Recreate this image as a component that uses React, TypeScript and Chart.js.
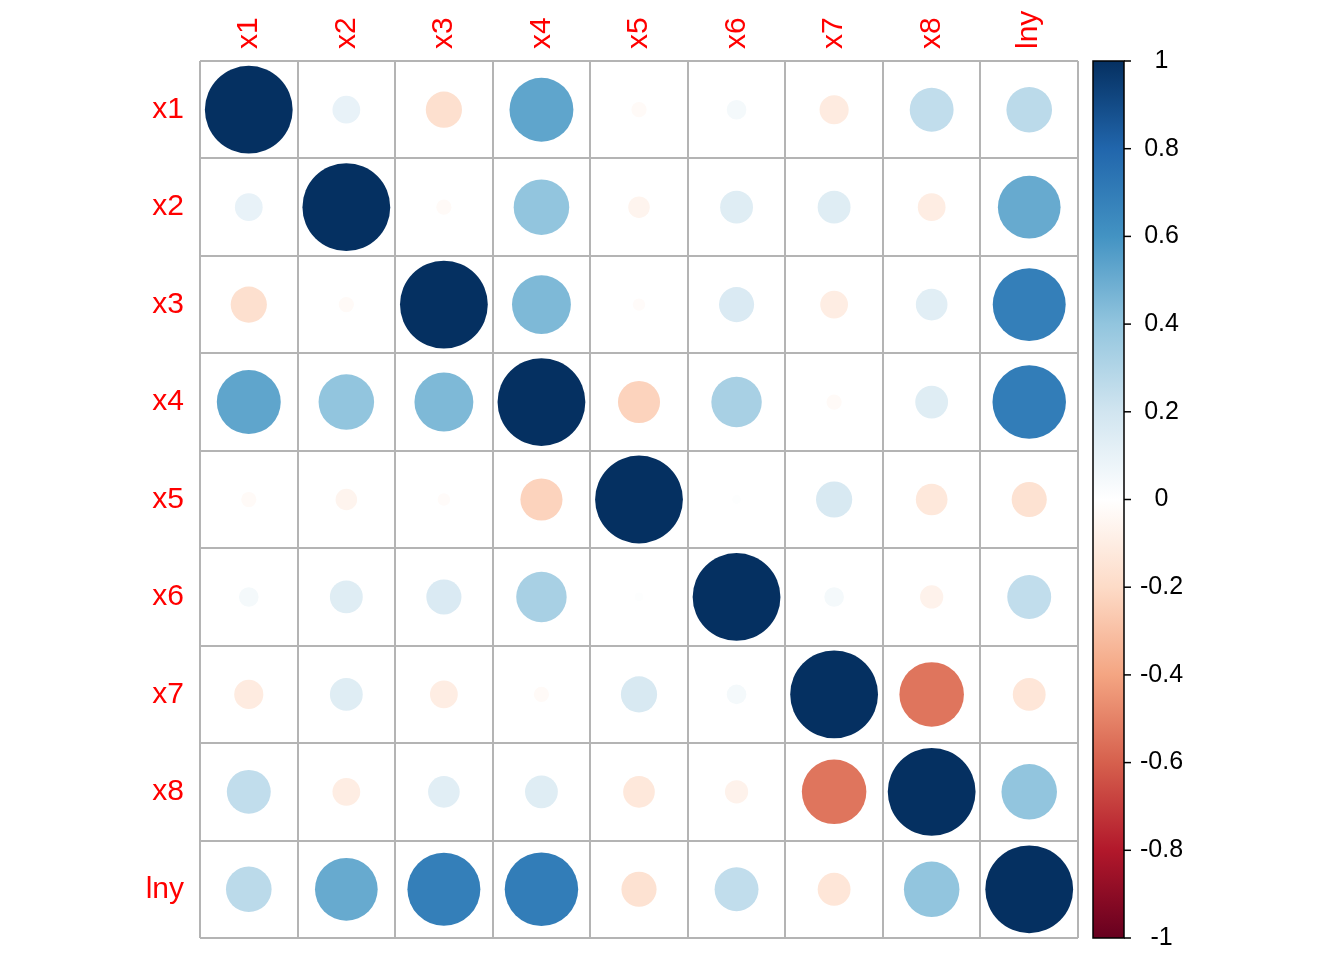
import React, { useEffect, useRef } from 'react';
import { Chart, registerables } from 'chart.js';

Chart.register(...registerables);

const VARS = ['x1', 'x2', 'x3', 'x4', 'x5', 'x6', 'x7', 'x8', 'lny'];

const ROW_X1 = [1, 0.10, -0.17, 0.53, -0.03, 0.05, -0.11, 0.25, 0.27];
const ROW_X2 = [0.10, 1, -0.03, 0.40, -0.06, 0.14, 0.14, -0.10, 0.51];
const ROW_X3 = [-0.17, -0.03, 1, 0.45, -0.02, 0.16, -0.10, 0.13, 0.69];
const ROW_X4 = [0.53, 0.40, 0.45, 1, -0.23, 0.33, -0.03, 0.14, 0.70];
const ROW_X5 = [-0.03, -0.06, -0.02, -0.23, 1, 0.01, 0.17, -0.13, -0.16];
const ROW_X6 = [0.05, 0.14, 0.16, 0.33, 0.01, 1, 0.05, -0.07, 0.25];
const ROW_X7 = [-0.11, 0.14, -0.10, -0.03, 0.17, 0.05, 1, -0.54, -0.14];
const ROW_X8 = [0.25, -0.10, 0.13, 0.14, -0.13, -0.07, -0.54, 1, 0.40];
const ROW_LNY = [0.27, 0.51, 0.69, 0.70, -0.16, 0.25, -0.14, 0.40, 1];

const CORR = [ROW_X1, ROW_X2, ROW_X3, ROW_X4, ROW_X5, ROW_X6, ROW_X7, ROW_X8, ROW_LNY];

const CB_TICKS = [-1, -0.8, -0.6, -0.4, -0.2, 0, 0.2, 0.4, 0.6, 0.8, 1];
const CB_LABELS = ['-1', '-0.8', '-0.6', '-0.4', '-0.2', '0', '0.2', '0.4', '0.6', '0.8', '1'];

const PALETTE = ['#67001F', '#B2182B', '#D6604D', '#F4A582', '#FDDBC7', '#FFFFFF', '#D1E5F0', '#92C5DE', '#4393C3', '#2166AC', '#053061'];

const FONT = '"Liberation Sans", Arial, Helvetica, sans-serif';
const GRID_COLOR = '#B4B4B4';

function hexToRgb(h: string): number[] {
  const n = parseInt(h.slice(1), 16);
  return [(n >> 16) & 255, (n >> 8) & 255, n & 255];
}

function colorFor(v: number): string {
  const t = ((v + 1) / 2) * (PALETTE.length - 1);
  const i = Math.max(0, Math.min(Math.floor(t), PALETTE.length - 2));
  const f = t - i;
  const a = hexToRgb(PALETTE[i]);
  const b = hexToRgb(PALETTE[i + 1]);
  const c = a.map((x, k) => Math.round(x + (b[k] - x) * f));
  return `rgb(${c[0]},${c[1]},${c[2]})`;
}

const colorbarPlugin = {
  id: 'colorbar',
  afterDraw(chart: any) {
    const s = chart.scales.cb;
    if (!s) return;
    const ctx = chart.ctx;
    const x0 = s.left + 15;
    const x1 = s.left + 46;
    const top = s.getPixelForValue(1);
    const bot = s.getPixelForValue(-1);
    const g = ctx.createLinearGradient(0, bot, 0, top);
    PALETTE.forEach((c, i) => g.addColorStop(i / (PALETTE.length - 1), c));
    ctx.save();
    ctx.fillStyle = g;
    ctx.fillRect(x0, top, x1 - x0, bot - top);
    ctx.strokeStyle = '#000';
    ctx.lineWidth = 1.5;
    ctx.strokeRect(x0, top, x1 - x0, bot - top);
    CB_TICKS.forEach((v) => {
      const y = s.getPixelForValue(v);
      ctx.beginPath();
      ctx.moveTo(x1, y);
      ctx.lineTo(x1 + 7, y);
      ctx.stroke();
    });
    ctx.restore();
  },
};

export default function App() {
  const ref = useRef<HTMLCanvasElement | null>(null);

  useEffect(() => {
    document.body.style.margin = '0';
    const canvas = ref.current;
    if (!canvas) return;

    const points: any[] = [];
    CORR.forEach((row, r) => {
      row.forEach((v, c) => {
        points.push({ x: VARS[c], y: VARS[r], v });
      });
    });

    const chart = new Chart(canvas, {
      type: 'scatter',
      data: {
        datasets: [
          {
            data: points,
            pointStyle: 'circle',
            pointRadius: (ctx: any) => {
              const sx = ctx.chart.scales.x;
              const cell = Math.abs(sx.getPixelForValue(1) - sx.getPixelForValue(0));
              const v = ctx.raw ? ctx.raw.v : 0;
              return 0.45 * cell * Math.sqrt(Math.abs(v));
            },
            pointBackgroundColor: (ctx: any) => colorFor(ctx.raw ? ctx.raw.v : 0),
            pointBorderColor: (ctx: any) => colorFor(ctx.raw ? ctx.raw.v : 0),
            pointBorderWidth: 0,
            pointHoverRadius: 0,
          } as any,
        ],
      },
      options: {
        responsive: false,
        animation: false,
        devicePixelRatio: 1,
        events: [],
        layout: { padding: { left: 0, top: 0, right: 0, bottom: 22 } },
        plugins: {
          legend: { display: false },
          tooltip: { enabled: false },
          title: { display: false },
        },
        scales: {
          x: {
            type: 'category',
            labels: VARS,
            position: 'top',
            offset: true,
            grid: { offset: true, color: GRID_COLOR, lineWidth: 2, drawTicks: false },
            border: { display: false },
            ticks: {
              color: '#FF0000',
              font: { size: 30, family: FONT },
              minRotation: 90,
              maxRotation: 90,
              padding: 12,
              labelOffset: 36,
              autoSkip: false,
            },
            afterFit: (s: any) => {
              s.height = 61;
              s.paddingLeft = 0;
              s.paddingRight = 0;
            },
          },
          y: {
            type: 'category',
            labels: VARS,
            position: 'left',
            offset: true,
            grid: { offset: true, color: GRID_COLOR, lineWidth: 2, drawTicks: false },
            border: { display: false },
            ticks: {
              color: '#FF0000',
              font: { size: 30, family: FONT },
              padding: 16,
              autoSkip: false,
            },
            afterFit: (s: any) => {
              s.width = 200;
              s.paddingTop = 0;
              s.paddingBottom = 0;
            },
          },
          cb: {
            type: 'linear',
            axis: 'y',
            position: 'right',
            min: -1,
            max: 1,
            grid: { display: false, drawTicks: true, tickLength: 57 },
            border: { display: false },
            afterBuildTicks: (s: any) => {
              s.ticks = CB_TICKS.map((v) => ({ value: v }));
            },
            ticks: {
              callback: (_v: any, i: number) => CB_LABELS[i],
              color: '#000',
              font: { size: 25, family: FONT },
              crossAlign: 'center',
              padding: 5,
              autoSkip: false,
            },
            afterFit: (s: any) => {
              s.width = 266;
              s.paddingTop = 0;
              s.paddingBottom = 0;
            },
          },
        } as any,
      },
      plugins: [colorbarPlugin],
    });

    return () => {
      chart.destroy();
    };
  }, []);

  return (
    <div style={{ width: 1344, height: 960 }}>
      <canvas ref={ref} width={1344} height={960} style={{ display: 'block', width: 1344, height: 960 }} />
    </div>
  );
}
